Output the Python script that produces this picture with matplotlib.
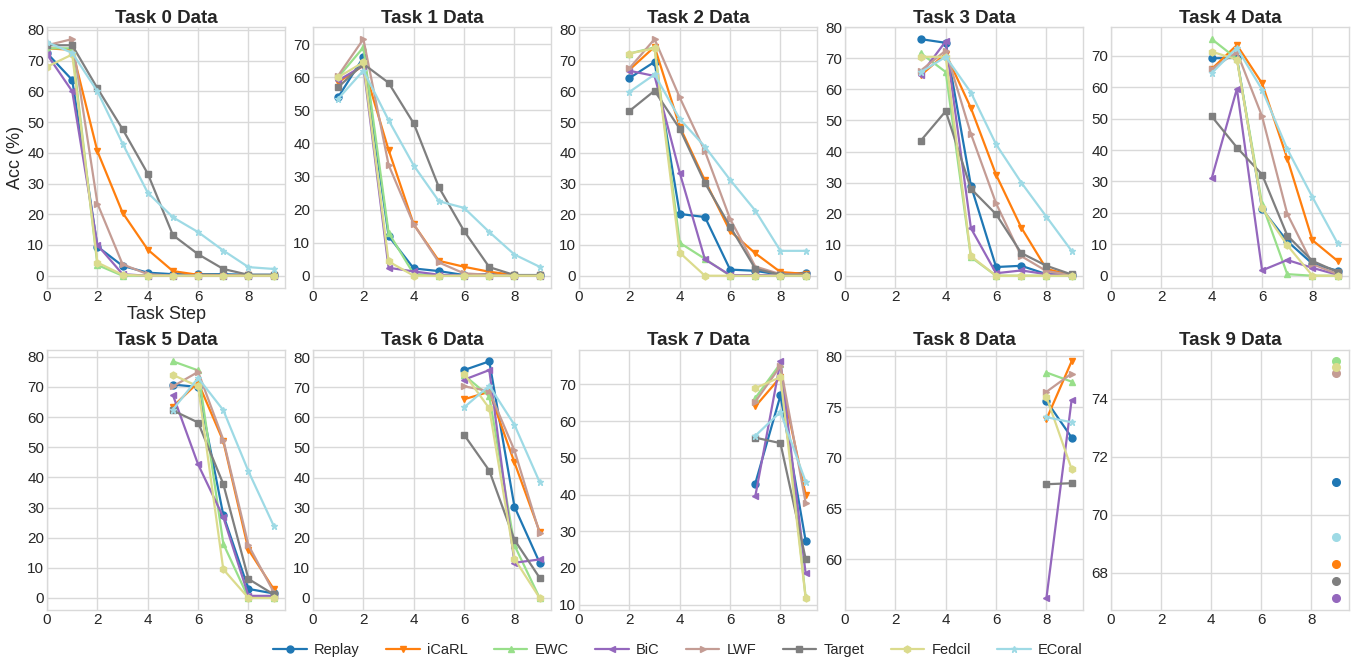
import matplotlib
matplotlib.use("Agg")
import matplotlib.pyplot as plt
from matplotlib.ticker import MultipleLocator
import numpy as np

plt.style.use("seaborn-v0_8-whitegrid")
plt.rcParams['font.family'] = ['Liberation Sans', 'DejaVu Sans']

methods = ["Replay", "iCaRL", "EWC", "BiC", "LWF", "Target", "Fedcil", "ECoral"]
colors = ["#1f77b4", "#ff7f0e", "#98df8a", "#9467bd", "#c49c94", "#7f7f7f", "#dbdb8d", "#9edae5"]
markers = ["o", "v", "^", "<", ">", "s", "h", "*"]

# accuracy per task: rows = methods, values for steps task..9
task0 = [
    [72.4, 63.7, 9.5, 3.2, 1.0, 0.5, 0.5, 0.5, 0.3, 0.3],
    [74.0, 73.5, 40.5, 20.5, 8.5, 1.5, 0.3, 0.2, 0.1, 0.1],
    [74.0, 74.0, 3.5, 0.0, 0.0, 0.0, 0.0, 0.0, 0.0, 0.0],
    [72.0, 60.0, 10.0, 0.5, 0.0, 0.0, 0.0, 0.0, 0.0, 0.0],
    [75.0, 77.0, 23.5, 3.7, 0.5, 0.0, 0.0, 0.0, 0.0, 0.0],
    [75.0, 75.0, 61.0, 47.7, 33.2, 13.2, 7.0, 2.2, 0.3, 0.3],
    [68.0, 72.0, 4.3, 0.3, 0.0, 0.0, 0.0, 0.0, 0.0, 0.0],
    [76.0, 72.5, 60.0, 43.0, 27.0, 19.0, 14.2, 8.2, 2.8, 2.2],
]
task1 = [
    [54.0, 66.0, 12.0, 2.2, 1.4, 0.2, 0.5, 0.2, 0.2],
    [58.5, 63.5, 38.0, 15.5, 4.5, 2.7, 1.2, 0.2, 0.1],
    [60.0, 69.0, 13.0, 0.5, 0.0, 0.0, 0.0, 0.0, 0.0],
    [59.0, 63.5, 2.4, 1.3, 0.3, 0.0, 0.0, 0.0, 0.0],
    [60.5, 71.5, 33.5, 15.5, 4.0, 0.7, 0.3, 0.0, 0.0],
    [57.0, 64.0, 58.3, 46.0, 26.7, 13.5, 2.6, 0.2, 0.2],
    [60.0, 64.5, 4.3, 0.0, 0.0, 0.0, 0.0, 0.0, 0.0],
    [53.5, 62.0, 47.0, 33.3, 22.5, 20.5, 13.2, 6.4, 2.7],
]
task2 = [
    [64.3, 69.6, 20.1, 19.1, 2.0, 1.6, 0.3, 1.0],
    [67.0, 74.5, 48.5, 31.0, 14.5, 7.3, 1.2, 0.6],
    [72.3, 74.3, 10.7, 5.5, 0.0, 0.0, 0.0, 0.0],
    [66.7, 65.0, 33.5, 5.3, 0.2, 0.2, 0.1, 0.1],
    [67.5, 77.0, 58.0, 40.5, 18.5, 3.0, 0.5, 0.3],
    [53.6, 60.2, 47.8, 30.2, 16.0, 2.3, 0.3, 0.3],
    [72.3, 74.0, 7.5, 0.0, 0.0, 0.0, 0.0, 0.0],
    [59.8, 65.5, 51.0, 42.0, 31.2, 21.2, 8.1, 8.1],
]
task3 = [
    [76.2, 75.0, 29.0, 2.8, 3.2, 0.5, 0.3],
    [64.5, 71.5, 54.0, 32.5, 15.5, 2.2, 0.1],
    [71.7, 65.6, 6.0, 0.0, 0.0, 0.0, 0.0],
    [64.7, 75.5, 15.3, 0.8, 1.7, 0.5, 0.1],
    [66.0, 72.5, 45.7, 23.3, 6.3, 1.5, 0.2],
    [43.4, 53.0, 28.0, 19.8, 7.3, 3.2, 0.4],
    [70.5, 70.5, 6.3, 0.0, 0.0, 0.0, 0.0],
    [65.5, 70.5, 59.0, 42.3, 30.0, 19.0, 8.0],
]
task4 = [
    [69.2, 69.3, 21.2, 11.0, 3.8, 1.6],
    [65.8, 73.4, 61.2, 37.3, 11.3, 4.7],
    [75.3, 69.0, 22.8, 0.5, 0.0, 0.0],
    [31.0, 59.5, 1.7, 5.0, 2.5, 0.3],
    [65.8, 71.2, 50.7, 19.7, 3.7, 0.5],
    [50.7, 40.8, 32.2, 12.8, 4.7, 1.2],
    [71.3, 68.8, 21.5, 9.7, 0.0, 0.0],
    [64.5, 72.5, 59.2, 40.3, 25.0, 10.3],
]
task5 = [
    [70.8, 70.0, 27.5, 3.0, 1.5],
    [63.5, 71.5, 52.0, 16.0, 3.0],
    [78.5, 75.5, 18.0, 0.0, 0.0],
    [67.3, 44.3, 26.8, 0.7, 0.7],
    [70.2, 75.0, 52.5, 17.5, 2.0],
    [62.2, 58.2, 37.8, 6.3, 1.2],
    [74.0, 70.2, 9.5, 0.0, 0.0],
    [62.5, 73.0, 62.3, 42.0, 24.0],
]
task6 = [
    [75.7, 78.6, 30.3, 11.7],
    [66.0, 68.5, 45.0, 22.0],
    [74.0, 67.0, 17.5, 0.0],
    [72.5, 75.7, 11.7, 12.8],
    [70.3, 68.7, 49.0, 21.5],
    [54.2, 42.3, 19.3, 6.7],
    [74.5, 63.0, 13.0, 0.0],
    [63.3, 70.5, 57.5, 38.5],
]
task7 = [
    [43.0, 67.0, 27.4],
    [64.0, 72.0, 40.0],
    [66.3, 75.7, 12.0],
    [39.5, 76.3, 18.5],
    [65.3, 75.0, 37.8],
    [55.5, 54.0, 22.5],
    [69.0, 72.0, 11.8],
    [56.0, 62.5, 43.5],
]
task8 = [
    [75.6, 72.0],
    [73.8, 79.5],
    [78.4, 77.5],
    [56.2, 75.7],
    [76.5, 78.3],
    [67.4, 67.5],
    [76.0, 68.9],
    [74.0, 73.5],
]
task9 = [
    [71.12],
    [68.31],
    [75.30],
    [67.12],
    [74.91],
    [67.72],
    [75.10],
    [69.22],
]
all_tasks = [task0, task1, task2, task3, task4, task5, task6, task7, task8, task9]
n_steps = 10
y_steps = [10, 10, 10, 10, 10, 10, 10, 10, 5, 2]

fig, axes = plt.subplots(2, 5, figsize=(13.56, 6.65), dpi=100)
fig.subplots_adjust(left=0.0347, right=0.9948, top=0.959, bottom=0.083,
                    wspace=0.118, hspace=0.238)

for t, (ax, data) in enumerate(zip(axes.flat, all_tasks)):
    xs = np.arange(t, n_steps)
    for m, name in enumerate(methods):
        if t == n_steps - 1:
            ax.plot(xs, data[m], marker="o", color=colors[m], linestyle="-",
                    markersize=5.5, linewidth=1.5, label=name)
        else:
            ax.plot(xs, data[m], marker=markers[m], color=colors[m],
                    markersize=5, linewidth=1.6, label=name)
    ax.set_title(f"Task {t} Data", fontsize=13.5, fontweight="bold", pad=3)
    ax.set_xticks([0, 2, 4, 6, 8])
    ax.yaxis.set_major_locator(MultipleLocator(y_steps[t]))
    if t == n_steps - 1:
        ax.set_xlim(0, 9.5)
    else:
        ax.set_xlim(0, 9.45)
    ax.tick_params(labelsize=11, pad=2)
    ax.grid(True, color="#d9d9d9", linewidth=1.0)
    for s in ax.spines.values():
        s.set_visible(True)
        s.set_color("#d9d9d9")
        s.set_linewidth(1.0)

axes[0, 0].set_ylabel("Acc (%)", fontsize=13, labelpad=2)
axes[0, 0].set_xlabel("Task Step", fontsize=13, labelpad=1)

handles, labels = axes[0, 0].get_legend_handles_labels()
fig.legend(handles, labels, loc="center", bbox_to_anchor=(0.5, 0.022), ncol=8,
           frameon=False, fontsize=10.5, columnspacing=1.8, handlelength=2.3,
           handletextpad=0.5)

fig.savefig("out.png", dpi=100)
